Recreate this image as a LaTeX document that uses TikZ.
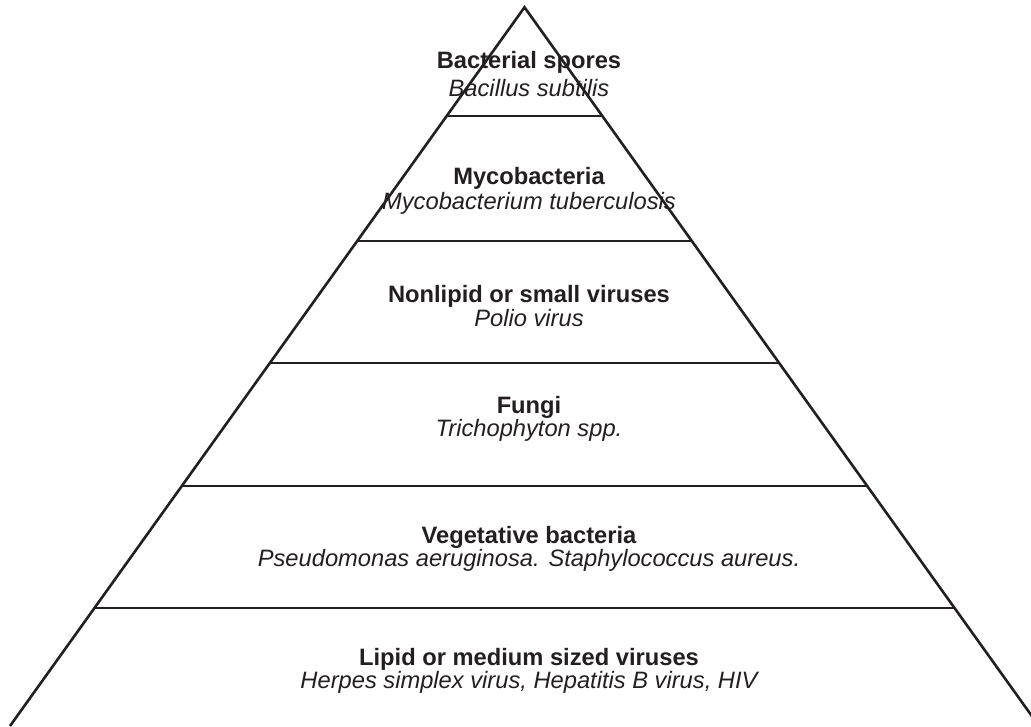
\documentclass[tikz,border=0pt]{standalone}
\usepackage{fontspec}
\setmainfont{Liberation Sans}
\definecolor{ink}{HTML}{231F20}
\begin{document}
\begin{tikzpicture}[x=1pt,y=-1pt,
  edge/.style={draw=ink,line width=2.6pt,line join=miter},
  tier/.style={draw=ink,line width=2.6pt},
  head/.style={anchor=base,inner sep=0pt,text=ink,font=\fontsize{23.7}{28}\selectfont\bfseries},
  sub/.style={anchor=base,inner sep=0pt,text=ink,font=\fontsize{23.7}{28}\selectfont\itshape}]
\useasboundingbox (0,0) rectangle (1031,726);
\coordinate (apex) at (524.5,7.3);
\coordinate (bl) at (10,726);
\coordinate (br) at (1039,726);
\draw[edge] (bl) -- (apex) -- (br);
\coordinate (l1) at (446.7,116); \coordinate (r1) at (602.3,116);
\coordinate (l2) at (357.2,241); \coordinate (r2) at (691.8,241);
\coordinate (l3) at (269.8,363); \coordinate (r3) at (779.2,363);
\coordinate (l4) at (181.8,486); \coordinate (r4) at (867.2,486);
\coordinate (l5) at (94.4,608); \coordinate (r5) at (954.6,608);
\draw[tier] (l1) -- (r1);
\draw[tier] (l2) -- (r2);
\draw[tier] (l3) -- (r3);
\draw[tier] (l4) -- (r4);
\draw[tier] (l5) -- (r5);
\node[head] (h1) at (529,68.3) {Bacterial spores};
\node[sub] (s1) at (529,96.7) {Bacillus subtilis};
\node[head] (h2) at (529,184.3) {Mycobacteria};
\node[sub] (s2) at (529,209) {Mycobacterium tuberculosis};
\node[head] (h3) at (529,302.7) {Nonlipid or small viruses};
\node[sub] (s3) at (529,326.7) {Polio virus};
\node[head] (h4) at (529,413) {Fungi};
\node[sub] (s4) at (529,436.7) {Trichophyton spp.};
\node[head] (h5) at (529,543.3) {Vegetative bacteria};
\node[sub] (s5) at (529,566.7) {Pseudomonas aeruginosa. Staphylococcus aureus.};
\node[head] (h6) at (529,665) {Lipid or medium sized viruses};
\node[sub] (s6) at (529,688.3) {Herpes simplex virus, Hepatitis B virus, HIV};
\end{tikzpicture}
\end{document}
